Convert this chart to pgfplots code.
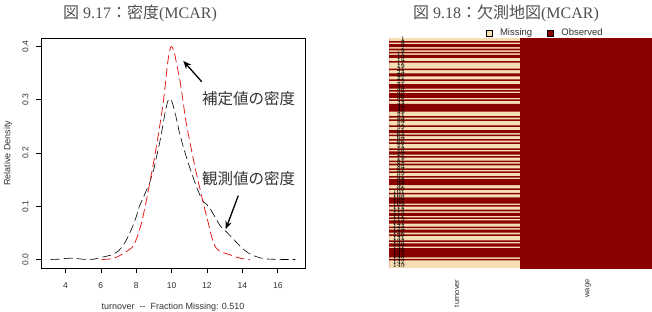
\documentclass[border=0pt]{standalone}
\usepackage{fontspec}
\setmainfont{Liberation Sans}
\newfontfamily\cjk{Noto Sans CJK JP}
\newfontfamily\serif{Liberation Serif}
\usepackage{pgfplots}
\pgfplotsset{compat=1.18}
\usetikzlibrary{arrows.meta}
\definecolor{wheatc}{RGB}{245,222,179}
\definecolor{obsred}{RGB}{139,0,0}
\definecolor{rline}{RGB}{228,30,30}
\definecolor{txtgrey}{RGB}{50,50,50}
\definecolor{ttlgrey}{RGB}{80,80,80}
\begin{document}
\begin{tikzpicture}
\useasboundingbox (0pt,0pt) rectangle (652pt,311pt);
% titles
\node[text=ttlgrey, font=\serif\fontsize{16}{18}\selectfont] at (140pt,298pt) {{\cjk 図} 9.17{\cjk ：密度}(MCAR)};
\node[text=ttlgrey, font=\serif\fontsize{16}{18}\selectfont] at (506pt,298pt) {{\cjk 図} 9.18{\cjk ：欠測地図}(MCAR)};
% ---------------- left: densities
\begin{axis}[at={(41pt,43pt)}, anchor=south west, scale only axis,
  width=264pt, height=230pt,
  xmin=2.62, xmax=17.54, ymin=-0.016, ymax=0.416,
  xtick={4,6,8,10,12,14,16}, ytick={0,0.1,0.2,0.3,0.4},
  axis line style={line width=0.6pt},
  tick align=outside, major tick length=5pt,
  xtick pos=left, ytick pos=left,
  tick style={black, line width=0.6pt},
  /pgf/number format/assume math mode=true,
  ticklabel style={font=\fontsize{8.5}{10}\selectfont, text=txtgrey},
  yticklabel={\pgfmathprintnumber[fixed,fixed zerofill,precision=1]{\tick}},
  yticklabel style={xshift=-4pt, rotate=90, anchor=south},
  xticklabel style={yshift=-6pt},
  xlabel={turnover\ \ -{}-\ \ Fraction Missing: 0.510},
  ylabel={Relative Density},
  label style={font=\fontsize{9}{10}\selectfont, text=txtgrey},
  xlabel style={at={(axis description cs:0.5,-0.17)}, anchor=center},
  ylabel style={at={(axis description cs:-0.125,0.5)}, anchor=center, rotate=0},
  clip=false]
\addplot[black, line width=0.6pt, dash pattern=on 9pt off 4pt] coordinates {
(3.17,0) (3.6,0.0005) (4.0,0.002) (4.3,0.0025) (4.7,0.0015) (5.15,0) (5.6,0.0005)
(5.9,0.003) (6.3,0.006) (6.67,0.009) (7.0,0.016) (7.24,0.025) (7.5,0.04) (7.8,0.062)
(8.0,0.08) (8.18,0.1) (8.45,0.12) (8.75,0.143) (9.0,0.17) (9.13,0.19) (9.3,0.215)
(9.5,0.25) (9.65,0.28) (9.79,0.298) (9.88,0.302) (10.0,0.298) (10.1,0.288)
(10.25,0.268) (10.45,0.237) (10.65,0.213) (10.83,0.193) (11.0,0.175) (11.2,0.156)
(11.4,0.137) (11.6,0.121) (11.8,0.108) (11.97,0.104) (12.15,0.097) (12.35,0.086)
(12.55,0.074) (12.73,0.064) (12.9,0.057) (13.1,0.052) (13.3,0.045) (13.5,0.038)
(13.7,0.031) (13.9,0.024) (14.1,0.018) (14.35,0.012) (14.6,0.0076) (15.0,0.003)
(15.38,0.001) (15.8,0.0003) (16.3,0) (16.99,0)};
\addplot[rline, line width=0.8pt, dash pattern=on 9pt off 4pt] coordinates {
(6.05,0) (6.4,0.0005) (6.7,0.002) (7.0,0.006) (7.25,0.011) (7.5,0.016) (7.75,0.022)
(7.95,0.033) (8.12,0.048) (8.28,0.066) (8.42,0.086) (8.6,0.115) (8.8,0.15) (9.0,0.185)
(9.18,0.22) (9.35,0.255) (9.52,0.292) (9.65,0.33) (9.76,0.365) (9.86,0.388) (9.95,0.399)
(10.0,0.4) (10.08,0.396) (10.2,0.382) (10.33,0.36) (10.48,0.335) (10.63,0.302)
(10.78,0.265) (10.93,0.238) (11.05,0.218) (11.22,0.19) (11.4,0.162) (11.6,0.133)
(11.8,0.105) (11.95,0.085) (12.08,0.068) (12.22,0.048) (12.35,0.033) (12.5,0.022)
(12.7,0.016) (12.9,0.013) (13.1,0.011) (13.3,0.009) (13.5,0.006) (13.7,0.004)
(14.0,0.0015) (14.43,0)};
\node[text=txtgrey, font=\cjk\fontsize{15.5}{16}\selectfont] at (axis cs:14.35,0.303) {補定値の密度};
\node[text=txtgrey, font=\cjk\fontsize{15.5}{16}\selectfont] at (axis cs:14.35,0.151) {観測値の密度};
\draw[-{Stealth[length=8pt,width=6.5pt]}, line width=1.3pt] (axis cs:11.70,0.334) -- (axis cs:10.66,0.373);
\draw[-{Stealth[length=8pt,width=6.5pt]}, line width=1.3pt] (axis cs:13.77,0.120) -- (axis cs:13.06,0.057);
\end{axis}
% ---------------- right: missingness map
\begin{axis}[at={(389pt,43pt)}, anchor=south west, scale only axis,
  width=263pt, height=230pt, axis on top,
  xmin=0, xmax=2, ymin=0.5, ymax=150.5, y dir=reverse,
  axis line style={draw=none}, major tick length=0pt,
  xtick={0.5,1.5}, xticklabels={turnover,wage},
  xticklabel style={font=\fontsize{7.5}{8}\selectfont, text=txtgrey, yshift=-8pt, xshift=2pt, rotate=90, anchor=east},
  ytick={1,3,...,149},
  yticklabel style={font=\fontsize{7}{7}\selectfont, text=black, xshift=16pt, anchor=east, inner sep=0pt},
  legend columns=2,
  legend style={draw=none, fill=none, at={(axis description cs:0.356,1.022)}, anchor=west,
    font=\fontsize{9.5}{10}\selectfont, text=txtgrey,
    /tikz/every even column/.append style={column sep=13pt}},
  legend image code/.code={\draw[#1, draw=black, line width=0.4pt] (0pt,-3pt) rectangle (6pt,3pt);
    \path[draw=none, fill=none] (0pt,0pt) -- (12pt,0pt);}
  ]
\addplot[fill=wheatc, draw=none] coordinates {(0,0.5) (1,0.5) (1,150.5) (0,150.5)} -- cycle;
\addlegendentry{Missing}
\addplot[fill=obsred, draw=obsred, line width=0.5pt] coordinates {(1,0.5) (2,0.5) (2,150.5) (1,150.5)} -- cycle;
\addlegendentry{Observed}
% turnover: 1 = observed, 0 = missing (rows 0 and 151 only close the outline)
\addplot[const plot mark right, fill=obsred, draw=none, forget plot]
 table[row sep=\\, x=v, y expr=\thisrow{row}-0.5] {
row v\\ 0 0\\
1 0\\ 2 0\\ 3 1\\ 4 0\\ 5 1\\ 6 1\\ 7 0\\ 8 1\\ 9 0\\ 10 1\\
11 0\\ 12 1\\ 13 1\\ 14 0\\ 15 0\\ 16 1\\ 17 0\\ 18 0\\ 19 0\\ 20 0\\
21 1\\ 22 0\\ 23 0\\ 24 1\\ 25 1\\ 26 0\\ 27 0\\ 28 1\\ 29 0\\ 30 0\\
31 1\\ 32 1\\ 33 1\\ 34 0\\ 35 1\\ 36 0\\ 37 1\\ 38 1\\ 39 1\\ 40 0\\
41 1\\ 42 0\\ 43 0\\ 44 1\\ 45 1\\ 46 1\\ 47 1\\ 48 1\\ 49 0\\ 50 0\\
51 0\\ 52 1\\ 53 0\\ 54 1\\ 55 0\\ 56 0\\ 57 0\\ 58 1\\ 59 0\\ 60 0\\
61 1\\ 62 1\\ 63 0\\ 64 1\\ 65 0\\ 66 0\\ 67 1\\ 68 0\\ 69 1\\ 70 0\\
71 0\\ 72 0\\ 73 1\\ 74 0\\ 75 1\\ 76 1\\ 77 0\\ 78 1\\ 79 0\\ 80 0\\
81 1\\ 82 0\\ 83 1\\ 84 0\\ 85 0\\ 86 1\\ 87 0\\ 88 1\\ 89 0\\ 90 0\\
91 1\\ 92 0\\ 93 1\\ 94 1\\ 95 1\\ 96 1\\ 97 0\\ 98 0\\ 99 1\\ 100 0\\
101 0\\ 102 1\\ 103 0\\ 104 0\\ 105 1\\ 106 1\\ 107 1\\ 108 1\\ 109 0\\ 110 1\\
111 0\\ 112 0\\ 113 1\\ 114 0\\ 115 1\\ 116 1\\ 117 0\\ 118 1\\ 119 0\\ 120 1\\
121 1\\ 122 0\\ 123 0\\ 124 1\\ 125 0\\ 126 1\\ 127 1\\ 128 0\\ 129 1\\ 130 0\\
131 0\\ 132 0\\ 133 1\\ 134 0\\ 135 1\\ 136 1\\ 137 0\\ 138 1\\ 139 1\\ 140 1\\
141 1\\ 142 1\\ 143 1\\ 144 0\\ 145 1\\ 146 0\\ 147 0\\ 148 0\\ 149 0\\ 150 0\\
151 0\\
} -- cycle;
\end{axis}
\end{tikzpicture}
\end{document}
